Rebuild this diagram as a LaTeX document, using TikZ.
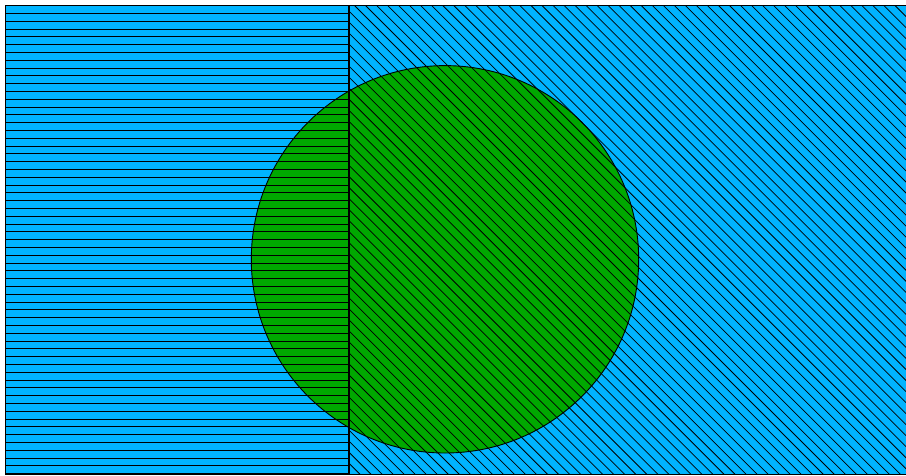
\documentclass[tikz,border=0pt]{standalone}
\usetikzlibrary{calc}
\definecolor{skyfill}{RGB}{0,180,255}
\definecolor{discfill}{RGB}{0,168,0}
\tikzset{
  hatchline/.style={black, line width=0.75pt},
  edgeline/.style={black, line width=1.2pt},
}
\begin{document}
\begin{tikzpicture}[x=1pt,y=-1pt]
  \useasboundingbox (0,0) rectangle (906,475);
  \fill[white] (0,0) rectangle (906,475);
  \coordinate (ltop) at (5.5,5.5);
  \coordinate (lbot) at (349,474.5);
  \coordinate (rtop) at (349,5.5);
  \coordinate (rbot) at (912,474.5);
  \coordinate (cc) at (445,259.3);
  % fills
  \fill[skyfill] (ltop) rectangle (lbot);
  \fill[skyfill] (rtop) rectangle (rbot);
  \fill[discfill] (cc) circle[radius=193.7];
  % horizontal hatching on the left
  \begin{scope}
    \clip (ltop) rectangle (lbot);
    \foreach \k in {1,...,61} {
      \draw[hatchline] (0,{5.5+7.8*\k}) -- (360,{5.5+7.8*\k});
    }
  \end{scope}
  % diagonal hatching on the right
  \begin{scope}
    \clip (rtop) rectangle (rbot);
    \foreach \k in {-45,...,52} {
      \draw[hatchline] ({349+11.03*\k},0) -- ({349+11.03*\k+480},480);
    }
  \end{scope}
  % circle outline
  \draw[black, line width=0.9pt] (cc) circle[radius=193.7];
  % rectangle borders
  \draw[edgeline] (ltop) rectangle (lbot);
  \draw[edgeline] (rtop) rectangle (rbot);
\end{tikzpicture}
\end{document}
